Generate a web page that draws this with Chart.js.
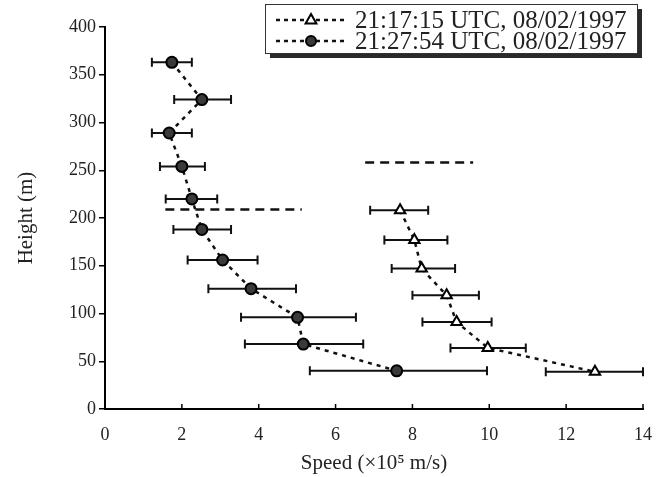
<!DOCTYPE html>
<html><head><meta charset="utf-8">
<script src="https://cdn.jsdelivr.net/npm/chart.js@4/dist/chart.umd.min.js"></script>
<style>html,body{margin:0;padding:0;background:#fff}#wrap{width:656px;height:477px;position:relative}</style>
</head><body><div id="wrap"><canvas id="c" width="656" height="477"></canvas></div>
<script>
// ---- Data ----
const seriesLabels = ['21:17:15 UTC, 08/02/1997', '21:27:54 UTC, 08/02/1997'];

// Series 1 (triangles, 21:17:15 UTC)
const triHeight  = [208, 177, 147, 119, 91, 64, 39];
const triSpeed   = [7.68, 8.05, 8.24, 8.89, 9.15, 9.96, 12.75];
const triErrLow  = [6.90, 7.27, 7.46, 8.00, 8.26, 8.99, 11.47];
const triErrHigh = [8.41, 8.91, 9.11, 9.73, 10.06, 10.95, 14.00];

// Series 2 (circles, 21:27:54 UTC)
const cirHeight  = [363, 324, 289, 254, 220, 188, 156, 126, 96, 68, 40];
const cirSpeed   = [1.74, 2.52, 1.67, 2.00, 2.26, 2.52, 3.06, 3.80, 5.01, 5.16, 7.59];
const cirErrLow  = [1.22, 1.80, 1.22, 1.43, 1.58, 1.78, 2.15, 2.69, 3.54, 3.64, 5.33];
const cirErrHigh = [2.26, 3.28, 2.26, 2.60, 2.92, 3.28, 3.97, 4.97, 6.53, 6.72, 9.94];

// Horizontal dashed reference lines
const refLine1Speed = [1.57, 5.12]; const refLine1Height = [209, 209];
const refLine2Speed = [6.77, 9.58]; const refLine2Height = [258, 258];

// Axis
const xTitle = 'Speed (\u00d710\u2075 m/s)';
const yTitle = 'Height (m)';

// ---- Build ----
const FONT = "'Liberation Serif', 'DejaVu Serif', serif";
const toPts = (xs, ys) => xs.map((x, i) => ({x: x, y: ys[i]}));

const errorBarPlugin = {
  id: 'errorBars',
  beforeDatasetsDraw(chart) {
    const ctx = chart.ctx, xs = chart.scales.x, ys = chart.scales.y;
    ctx.save();
    ctx.strokeStyle = '#111';
    ctx.lineWidth = 2;
    chart.data.datasets.forEach(ds => {
      if (!ds.errLow) return;
      ds.data.forEach((p, i) => {
        const y = ys.getPixelForValue(p.y);
        const x1 = xs.getPixelForValue(ds.errLow[i]);
        const x2 = xs.getPixelForValue(ds.errHigh[i]);
        ctx.beginPath();
        ctx.moveTo(x1, y); ctx.lineTo(x2, y);
        ctx.moveTo(x1, y - 4.5); ctx.lineTo(x1, y + 4.5);
        ctx.moveTo(x2, y - 4.5); ctx.lineTo(x2, y + 4.5);
        ctx.stroke();
      });
    });
    ctx.restore();
  }
};

function drawMarker(ctx, style, x, y) {
  ctx.save();
  ctx.lineWidth = 2;
  ctx.strokeStyle = '#000';
  if (style === 'triangle') {
    const r = 6;
    ctx.fillStyle = '#fff';
    ctx.beginPath();
    ctx.moveTo(x, y - r);
    ctx.lineTo(x + r * 0.9, y + r * 0.6);
    ctx.lineTo(x - r * 0.9, y + r * 0.6);
    ctx.closePath();
    ctx.fill(); ctx.stroke();
  } else {
    ctx.fillStyle = '#3a3a3a';
    ctx.beginPath();
    ctx.arc(x, y, 5, 0, Math.PI * 2);
    ctx.fill(); ctx.stroke();
  }
  ctx.restore();
}

const decorPlugin = {
  id: 'decor',
  afterDraw(chart) {
    const ctx = chart.ctx, xs = chart.scales.x;
    // inward x ticks
    ctx.save();
    ctx.strokeStyle = '#000';
    ctx.lineWidth = 1.5;
    xs.ticks.forEach((t, i) => {
      const px = xs.getPixelForTick(i);
      ctx.beginPath();
      ctx.moveTo(px, xs.top); ctx.lineTo(px, xs.top - 5);
      ctx.stroke();
    });
    ctx.restore();

    // legend box with shadow
    const bx = 265, by = 4, bw = 372, bh = 49;
    ctx.save();
    ctx.fillStyle = '#2a2a2a';
    ctx.fillRect(bx + 5, by + 5, bw, bh);
    ctx.fillStyle = '#fff';
    ctx.fillRect(bx, by, bw, bh);
    ctx.strokeStyle = '#333';
    ctx.lineWidth = 1;
    ctx.strokeRect(bx + 0.5, by + 0.5, bw, bh);
    const rows = [
      {label: seriesLabels[0], style: 'triangle', y: by + 16},
      {label: seriesLabels[1], style: 'circle', y: by + 37}
    ];
    rows.forEach(r => {
      ctx.strokeStyle = '#111';
      ctx.lineWidth = 2.5;
      ctx.setLineDash([4, 4]);
      ctx.beginPath();
      ctx.moveTo(276, r.y); ctx.lineTo(347, r.y);
      ctx.stroke();
      ctx.setLineDash([]);
      drawMarker(ctx, r.style, 311, r.y);
      ctx.fillStyle = '#222';
      ctx.font = '25px ' + FONT;
      ctx.textAlign = 'left';
      ctx.textBaseline = 'middle';
      ctx.fillText(r.label, 355, r.y + 1);
    });
    ctx.restore();
  }
};

const ctxEl = document.getElementById('c');
new Chart(ctxEl, {
  type: 'scatter',
  data: {
    datasets: [
      {
        label: seriesLabels[0],
        data: toPts(triSpeed, triHeight),
        errLow: triErrLow, errHigh: triErrHigh,
        showLine: true, borderColor: '#111', borderWidth: 2.5, borderDash: [4, 5],
        pointStyle: 'triangle', pointRadius: 6, pointBackgroundColor: '#fff',
        pointBorderColor: '#000', pointBorderWidth: 2, tension: 0
      },
      {
        label: seriesLabels[1],
        data: toPts(cirSpeed, cirHeight),
        errLow: cirErrLow, errHigh: cirErrHigh,
        showLine: true, borderColor: '#111', borderWidth: 2.5, borderDash: [4, 5],
        pointStyle: 'circle', pointRadius: 5.5, pointBackgroundColor: '#3a3a3a',
        pointBorderColor: '#000', pointBorderWidth: 2, tension: 0
      },
      {
        label: 'ref1', data: toPts(refLine1Speed, refLine1Height),
        showLine: true, borderColor: '#111', borderWidth: 2.5, borderDash: [9, 6],
        pointRadius: 0
      },
      {
        label: 'ref2', data: toPts(refLine2Speed, refLine2Height),
        showLine: true, borderColor: '#111', borderWidth: 2.5, borderDash: [9, 6],
        pointRadius: 0
      }
    ]
  },
  options: {
    responsive: false,
    animation: false,
    devicePixelRatio: 1,
    layout: {padding: {top: 27, right: 13, left: 0, bottom: 0}},
    plugins: {legend: {display: false}, tooltip: {enabled: false}},
    scales: {
      x: {
        type: 'linear', min: 0, max: 14,
        ticks: {stepSize: 2, color: '#222', font: {family: FONT, size: 18}, padding: 15, maxRotation: 0},
        grid: {display: true, drawOnChartArea: false, drawTicks: false, color: '#000'},
        border: {display: true, color: '#000', width: 2},
        title: {display: true, text: xTitle, color: '#222', font: {family: FONT, size: 21}, padding: {top: 0, bottom: 1}},
        afterFit(s) { s.height = 68; s.paddingRight = 0; s.paddingLeft = 0; }
      },
      y: {
        type: 'linear', min: 0, max: 400,
        ticks: {stepSize: 50, color: '#222', font: {family: FONT, size: 18}, padding: 3},
        grid: {display: true, drawOnChartArea: false, drawTicks: true, tickLength: 6, color: '#000', lineWidth: 1.5},
        border: {display: true, color: '#000', width: 2},
        title: {display: true, text: yTitle, color: '#222', font: {family: FONT, size: 21}, padding: {top: 14, bottom: 0}},
        afterFit(s) { s.width = 105; }
      }
    }
  },
  plugins: [errorBarPlugin, decorPlugin]
});
</script>
</body></html>
